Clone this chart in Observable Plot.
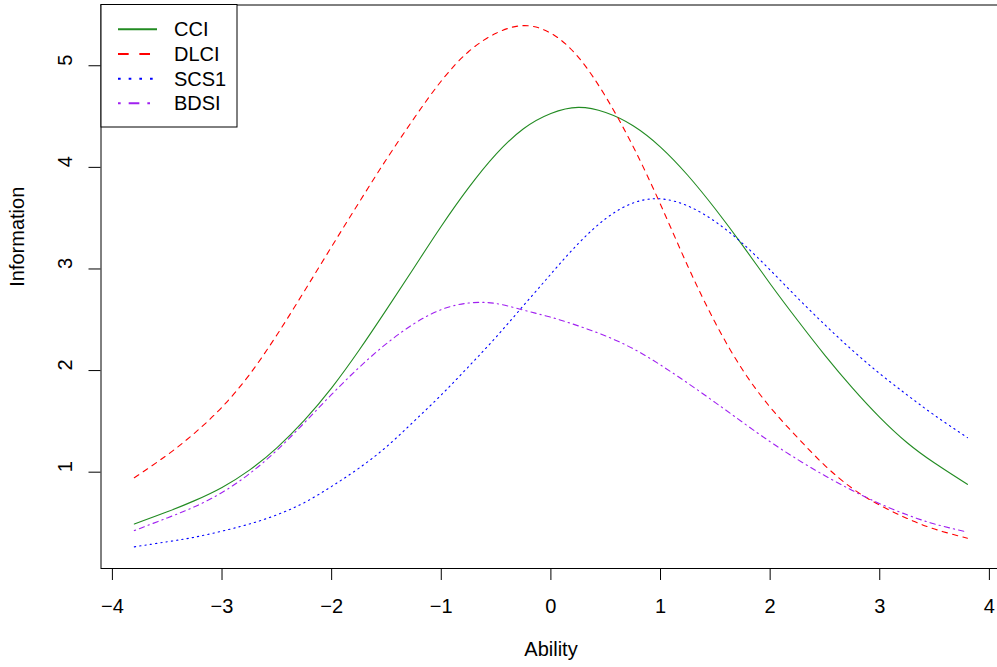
<!DOCTYPE html>
<html>
<head>
<meta charset="utf-8">
<script src="https://cdn.jsdelivr.net/npm/d3@7"></script>
<script src="https://cdn.jsdelivr.net/npm/@observablehq/plot@0.6"></script>
<style>
  html, body { margin: 0; padding: 0; background: #fff; }
  #chart svg { display: block; }
</style>
</head>
<body>
<div id="chart"></div>
<script>
// ---- data ----
const ability = [-3.8, -3.5, -3.25, -3, -2.75, -2.5, -2.25, -2, -1.75, -1.5, -1.25, -1, -0.75, -0.5, -0.25, 0,
                 0.25, 0.5, 0.75, 1, 1.25, 1.5, 1.75, 2, 2.25, 2.5, 2.75, 3, 3.25, 3.5, 3.8];
const cci  = [0.49, 0.61, 0.72, 0.85, 1.02, 1.24, 1.51, 1.83, 2.20, 2.60, 3.01, 3.42, 3.80, 4.13, 4.38, 4.53,
              4.59, 4.54, 4.41, 4.20, 3.92, 3.59, 3.23, 2.855, 2.495, 2.15, 1.83, 1.54, 1.29, 1.09, 0.88];
const dlci = [0.945, 1.17, 1.385, 1.64, 1.96, 2.35, 2.78, 3.22, 3.655, 4.08, 4.48, 4.85, 5.14, 5.32, 5.395, 5.32,
              5.085, 4.695, 4.205, 3.635, 3.025, 2.47, 2.005, 1.64, 1.34, 1.065, 0.84, 0.675, 0.545, 0.44, 0.35];
const scs1 = [0.265, 0.315, 0.36, 0.42, 0.49, 0.58, 0.70, 0.86, 1.04, 1.25, 1.50, 1.76, 2.04, 2.33, 2.64, 2.95,
              3.25, 3.495, 3.65, 3.69, 3.62, 3.465, 3.25, 2.99, 2.715, 2.45, 2.20, 1.97, 1.76, 1.56, 1.34];
const bdsi = [0.425, 0.55, 0.66, 0.80, 0.985, 1.215, 1.485, 1.765, 2.03, 2.265, 2.46, 2.60, 2.665, 2.66, 2.595, 2.525,
              2.44, 2.34, 2.215, 2.055, 1.875, 1.685, 1.49, 1.30, 1.125, 0.965, 0.82, 0.69, 0.58, 0.49, 0.41];

const seriesNames  = ["CCI", "DLCI", "SCS1", "BDSI"];
const seriesValues = [cci, dlci, scs1, bdsi];
const seriesColors = ["#228B22", "#FF0000", "#0000FF", "#A020F0"];
const seriesDash   = [null, "5.33,5.33", "1.33,4", "1.33,4,5.33,4"];
const legendDash   = [null, "10.67,10.67", "2.67,8", "2.67,8,10.67,8"];

const xTicks = [-4, -3, -2, -1, 0, 1, 2, 3, 4];
const yTicks = [1, 2, 3, 4, 5];
const xLabel = "Ability";
const yLabel = "Information";

// ---- layout ----
const W = 997, H = 667;
const mLeft = 100.5, mRight = 0, mTop = 4.5, mBottom = 99;
const xDomain = [-4.104, 4.074];
const yDomain = [0.052, 5.598];
const FONT = "'Liberation Sans', Arial, Helvetica, sans-serif";
const minus = d => (d < 0 ? "\u2212" + Math.abs(d) : String(d));

const rows = seriesNames.flatMap((name, i) =>
  ability.map((a, j) => ({ ability: a, info: seriesValues[i][j], series: name }))
);

const marks = [];
seriesNames.forEach((name, i) => {
  marks.push(Plot.line(rows.filter(r => r.series === name), {
    x: "ability", y: "info",
    stroke: seriesColors[i], strokeWidth: 1.1,
    strokeDasharray: seriesDash[i] || undefined,
    curve: "natural"
  }));
});

// frame (left, top, bottom); the right edge lies just outside the window
marks.push(Plot.ruleX([xDomain[0]], { stroke: "black", strokeWidth: 1 }));
marks.push(Plot.ruleY([yDomain[0], yDomain[1]], { stroke: "black", strokeWidth: 1 }));

// axes
marks.push(Plot.axisX({ ticks: xTicks, tickSize: 12, tickPadding: 18, tickFormat: minus, label: null, fontSize: 20, stroke: "black", fill: "black" }));
marks.push(Plot.axisY({ ticks: yTicks, tickSize: 12, tickFormat: () => "", label: null, stroke: "black" }));
marks.push(Plot.text(yTicks, { y: d => d, text: d => String(d), frameAnchor: "left", dx: -35.5, rotate: -90, fontSize: 20, fill: "black" }));

// axis titles
marks.push(Plot.text([xLabel], { text: d => d, frameAnchor: "bottom", dx: 1.75, dy: 87, fontSize: 20, fill: "black" }));
marks.push(Plot.text([yLabel], { text: d => d, frameAnchor: "left", dx: -83.5, rotate: -90, fontSize: 20, fill: "black" }));

const chart = Plot.plot({
  width: W, height: H,
  marginLeft: mLeft, marginRight: mRight, marginTop: mTop, marginBottom: mBottom,
  x: { domain: xDomain },
  y: { domain: yDomain },
  style: { fontFamily: FONT, fontSize: "20px", color: "black", background: "white", overflow: "visible" },
  marks
});

// ---- legend (top-left, R style) ----
const svg = d3.select(chart);
const lg = svg.append("g").attr("class", "legend");
lg.append("rect")
  .attr("x", 101).attr("y", 4.5).attr("width", 136).attr("height", 122.5)
  .attr("fill", "white").attr("stroke", "black").attr("stroke-width", 1);
seriesNames.forEach((name, i) => {
  const cy = 29.3 + i * 24.67;
  lg.append("line")
    .attr("x1", 118).attr("x2", 157).attr("y1", cy).attr("y2", cy)
    .attr("stroke", seriesColors[i]).attr("stroke-width", 2)
    .attr("stroke-dasharray", legendDash[i] || null);
  lg.append("text")
    .attr("x", 174).attr("y", cy).attr("dy", "0.35em")
    .attr("text-anchor", "start")
    .attr("font-family", FONT).attr("font-size", 20).attr("fill", "black")
    .text(name);
});

document.getElementById("chart").appendChild(chart);
</script>
</body>
</html>
